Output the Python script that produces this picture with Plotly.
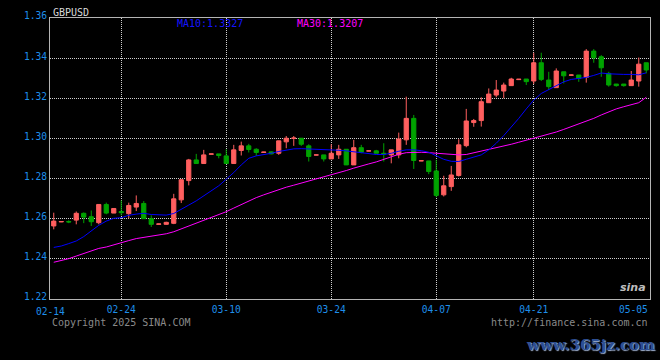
import plotly.graph_objects as go

# ---------------- data ----------------
open_ = [1.2564, 1.2584, 1.2586, 1.2593, 1.2627, 1.2610, 1.2580, 1.2671, 1.2628, 1.2636,
         1.2625, 1.2658, 1.2676, 1.2600, 1.2572, 1.2572, 1.2577, 1.2694, 1.2790, 1.2893,
         1.2875, 1.2921, 1.2923, 1.2913, 1.2875, 1.2940, 1.2963, 1.2946, 1.2930, 1.2933,
         1.2926, 1.2983, 1.3000, 1.3001, 1.2963, 1.2917, 1.2918, 1.2898, 1.2918, 1.2946,
         1.2868, 1.2954, 1.2937, 1.2938, 1.2926, 1.2918, 1.2918, 1.2993, 1.3100, 1.2888,
         1.2888, 1.2838, 1.2719, 1.2760, 1.2815, 1.2964, 1.3079, 1.3089, 1.3178, 1.3216,
         1.3236, 1.3263, 1.3293, 1.3296, 1.3286, 1.3377, 1.3291, 1.3253, 1.3332, 1.3315,
         1.3316, 1.3304, 1.3435, 1.3407, 1.3324, 1.3271, 1.3271, 1.3263, 1.3286, 1.3377]
high = [1.2630, 1.2587, 1.2592, 1.2636, 1.2631, 1.2641, 1.2671, 1.2680, 1.2651, 1.2691,
        1.2680, 1.2716, 1.2688, 1.2617, 1.2576, 1.2585, 1.2724, 1.2797, 1.2898, 1.2923,
        1.2943, 1.2923, 1.2923, 1.2946, 1.2968, 1.2984, 1.2973, 1.2951, 1.2933, 1.2935,
        1.2988, 1.3012, 1.3012, 1.3001, 1.2971, 1.2919, 1.2918, 1.2971, 1.2968, 1.2946,
        1.2993, 1.2968, 1.2939, 1.2943, 1.2976, 1.2943, 1.3029, 1.3208, 1.3117, 1.2890,
        1.2888, 1.2893, 1.2814, 1.2863, 1.2996, 1.3147, 1.3097, 1.3205, 1.3249, 1.3291,
        1.3278, 1.3302, 1.3296, 1.3296, 1.3427, 1.3427, 1.3332, 1.3349, 1.3332, 1.3318,
        1.3316, 1.3445, 1.3445, 1.3415, 1.3332, 1.3271, 1.3271, 1.3336, 1.3403, 1.3377]
low = [1.2547, 1.2583, 1.2578, 1.2572, 1.2578, 1.2564, 1.2572, 1.2622, 1.2628, 1.2617,
       1.2602, 1.2638, 1.2600, 1.2559, 1.2570, 1.2570, 1.2573, 1.2678, 1.2766, 1.2875,
       1.2875, 1.2921, 1.2901, 1.2875, 1.2875, 1.2915, 1.2930, 1.2913, 1.2929, 1.2921,
       1.2918, 1.2951, 1.2963, 1.2963, 1.2885, 1.2916, 1.2885, 1.2898, 1.2898, 1.2868,
       1.2868, 1.2926, 1.2936, 1.2926, 1.2885, 1.2876, 1.2901, 1.2968, 1.2848, 1.2887,
       1.2822, 1.2707, 1.2711, 1.2739, 1.2810, 1.2956, 1.3058, 1.3059, 1.3178, 1.3205,
       1.3200, 1.3263, 1.3292, 1.3266, 1.3271, 1.3286, 1.3241, 1.3253, 1.3274, 1.3314,
       1.3282, 1.3278, 1.3377, 1.3307, 1.3258, 1.3258, 1.3258, 1.3263, 1.3258, 1.3324]
close = [1.2588, 1.2586, 1.2584, 1.2627, 1.2608, 1.2585, 1.2671, 1.2628, 1.2651, 1.2630,
         1.2666, 1.2676, 1.2600, 1.2572, 1.2574, 1.2582, 1.2699, 1.2794, 1.2893, 1.2875,
         1.2918, 1.2923, 1.2915, 1.2875, 1.2943, 1.2963, 1.2945, 1.2930, 1.2932, 1.2923,
         1.2988, 1.3001, 1.3002, 1.2971, 1.2910, 1.2918, 1.2898, 1.2926, 1.2946, 1.2868,
         1.2954, 1.2931, 1.2938, 1.2926, 1.2923, 1.2943, 1.2997, 1.3100, 1.2890, 1.2889,
         1.2835, 1.2716, 1.2764, 1.2818, 1.2968, 1.3087, 1.3089, 1.3183, 1.3221, 1.3241,
         1.3266, 1.3296, 1.3295, 1.3283, 1.3377, 1.3294, 1.3258, 1.3336, 1.3312, 1.3316,
         1.3299, 1.3435, 1.3402, 1.3352, 1.3266, 1.3263, 1.3263, 1.3291, 1.3370, 1.3341]
ma10 = [1.2457, 1.2464, 1.2476, 1.2489, 1.2511, 1.2539, 1.2567, 1.2588, 1.2602, 1.2605,
        1.2617, 1.2623, 1.2627, 1.2621, 1.2618, 1.2618, 1.2626, 1.2645, 1.2668, 1.2689,
        1.2714, 1.2737, 1.2764, 1.2797, 1.2830, 1.2868, 1.2901, 1.2913, 1.2918, 1.2926,
        1.2935, 1.2943, 1.2948, 1.2949, 1.2948, 1.2945, 1.2943, 1.2943, 1.2941, 1.2938,
        1.2933, 1.2928, 1.2923, 1.2920, 1.2920, 1.2926, 1.2936, 1.2943, 1.2943, 1.2939,
        1.2931, 1.2915, 1.2896, 1.2886, 1.2885, 1.2896, 1.2906, 1.2918, 1.2943, 1.2976,
        1.3014, 1.3055, 1.3100, 1.3147, 1.3191, 1.3224, 1.3244, 1.3263, 1.3282, 1.3294,
        1.3299, 1.3304, 1.3314, 1.3326, 1.3322, 1.3319, 1.3319, 1.3319, 1.3317, 1.3327]
ma30 = [1.2383, 1.2391, 1.2401, 1.2414, 1.2428, 1.2439, 1.2452, 1.2459, 1.2471, 1.2481,
        1.2491, 1.2501, 1.2507, 1.2512, 1.2517, 1.2525, 1.2535, 1.2549, 1.2562, 1.2575,
        1.2590, 1.2603, 1.2618, 1.2635, 1.2653, 1.2671, 1.2689, 1.2705, 1.2719, 1.2733,
        1.2746, 1.2757, 1.2767, 1.2777, 1.2789, 1.2799, 1.2809, 1.2819, 1.2830, 1.2840,
        1.2852, 1.2864, 1.2873, 1.2883, 1.2896, 1.2910, 1.2921, 1.2929, 1.2931, 1.2931,
        1.2929, 1.2926, 1.2923, 1.2920, 1.2918, 1.2920, 1.2928, 1.2936, 1.2944, 1.2953,
        1.2963, 1.2971, 1.2981, 1.2991, 1.3001, 1.3009, 1.3019, 1.3032, 1.3045, 1.3059,
        1.3070, 1.3084, 1.3100, 1.3117, 1.3133, 1.3147, 1.3158, 1.3167, 1.3178, 1.3205]

tick_idx = [9, 23, 37, 51, 64]
tick_text = ["02-24", "03-10", "03-24", "04-07", "04-21"]
first_label = "02-14"
last_label = "05-05"
y_ticks = [1.22, 1.24, 1.26, 1.28, 1.30, 1.32, 1.34, 1.36]
symbol = "GBPUSD"
ma10_label = "MA10:1.3327"
ma30_label = "MA30:1.3207"

x = list(range(len(close)))

MONO = "DejaVu Sans Mono"
TICK_BLUE = "#1e8fea"
GRID = "#cfcfcf"
BORDER = "#b4b4b4"
TICK_SIZE = 9.6

fig = go.Figure()
fig.add_trace(go.Candlestick(
    x=x, open=open_, high=high, low=low, close=close,
    increasing=dict(line=dict(color="#ff5f5f", width=1), fillcolor="#ff5f5f"),
    decreasing=dict(line=dict(color="#00a300", width=1), fillcolor="#00a300"),
    whiskerwidth=0, hoverinfo="skip", showlegend=False,
))
fig.add_trace(go.Scatter(x=x, y=ma30, mode="lines",
                         line=dict(color="#ff00ff", width=1), hoverinfo="skip", showlegend=False))
fig.add_trace(go.Scatter(x=x, y=ma10, mode="lines",
                         line=dict(color="#0000ff", width=1), hoverinfo="skip", showlegend=False))

fig.update_layout(
    width=660, height=360,
    margin=dict(l=50, r=10, t=18, b=61),
    paper_bgcolor="black", plot_bgcolor="black",
    boxgap=0.2,
    hovermode=False,
    showlegend=False,
    font=dict(family=MONO, size=10, color=TICK_BLUE),
)
fig.update_xaxes(
    range=[-0.5, len(close) - 0.5],
    tickmode="array", tickvals=tick_idx, ticktext=tick_text,
    tickfont=dict(family=MONO, size=TICK_SIZE, color=TICK_BLUE),
    ticklabelstandoff=1,
    showgrid=True, gridcolor=GRID, griddash="1px,1px", gridwidth=1,
    showline=True, linecolor=BORDER, linewidth=1, mirror=True,
    zeroline=False, ticks="", rangeslider=dict(visible=False),
)
fig.update_yaxes(
    range=[1.22, 1.36],
    tickmode="array", tickvals=y_ticks, tickformat=".2f",
    tickfont=dict(family=MONO, size=TICK_SIZE, color=TICK_BLUE),
    ticklabelshift=-2,
    showgrid=True, gridcolor=GRID, griddash="1px,1px", gridwidth=1,
    showline=True, linecolor=BORDER, linewidth=1, mirror=True,
    zeroline=False, ticks="",
)

ann = [
    dict(text=first_label, x=0, xref="paper", y=-0.043, yref="paper",
         xanchor="center", yanchor="middle", showarrow=False,
         font=dict(family=MONO, size=TICK_SIZE, color=TICK_BLUE)),
    dict(text=last_label, x=1, xref="paper", y=-0.037, yref="paper",
         xanchor="right", yanchor="middle", showarrow=False,
         font=dict(family=MONO, size=TICK_SIZE, color=TICK_BLUE)),
    dict(text=symbol, x=0.0017, xref="paper", y=1.021, yref="paper",
         xanchor="left", yanchor="middle", showarrow=False,
         font=dict(family=MONO, size=10, color="#d8d8d8")),
    dict(text=ma10_label, x=0.2083, xref="paper", y=0.982, yref="paper",
         xanchor="left", yanchor="middle", showarrow=False,
         font=dict(family=MONO, size=10, color="#1414ff")),
    dict(text=ma30_label, x=0.4083, xref="paper", y=0.982, yref="paper",
         xanchor="left", yanchor="middle", showarrow=False,
         font=dict(family=MONO, size=10, color="#ff00ff")),
    dict(text="Copyright 2025 SINA.COM", x=0, xref="paper", y=-0.085, yref="paper",
         xanchor="left", yanchor="middle", showarrow=False,
         font=dict(family=MONO, size=10, color="#8a8a8a")),
    dict(text="http://finance.sina.com.cn", x=1, xref="paper", y=-0.085, yref="paper",
         xanchor="right", yanchor="middle", showarrow=False,
         font=dict(family=MONO, size=10, color="#8a8a8a")),
    dict(text="sina", x=0.997, xref="paper", y=0.04, yref="paper",
         xanchor="right", yanchor="middle", showarrow=False,
         font=dict(family="DejaVu Sans", size=11, color="#bdbdbd", weight="bold", style="italic")),
    dict(text="www.365jz.com", x=1.012, xref="paper", y=-0.165, yref="paper",
         xanchor="right", yanchor="middle", showarrow=False,
         font=dict(family="DejaVu Serif", size=15, color="#2d4f93", weight="bold",
                   shadow="1px 1px 1px #9fb0d0")),
]
fig.update_layout(annotations=ann)

fig.write_html("out.html")
